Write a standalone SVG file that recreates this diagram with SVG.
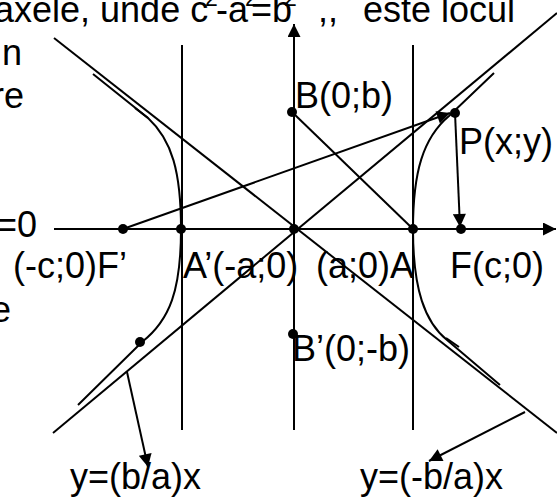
<svg xmlns="http://www.w3.org/2000/svg" width="557" height="504" viewBox="0 0 557 504">
<defs>
<style>
text{font-family:"Liberation Sans",Arial,sans-serif;font-size:36px;fill:#000}
.sup{font-size:23px}
.ln{stroke:#000;stroke-width:2;fill:none}
.dot{fill:#000}
</style>
<marker id="tri" viewBox="0 0 10 10" refX="10" refY="5" markerWidth="15" markerHeight="13" markerUnits="userSpaceOnUse" orient="auto">
<path d="M0,0 L10,5 L0,10 z" fill="#000"/>
</marker>
</defs>
<rect width="557" height="504" fill="#fff"/>
<g id="page-text">
<text x="-6" y="22">axele, unde c<tspan class="sup" x="205" y="6">2</tspan><tspan x="216" y="22">-a</tspan><tspan class="sup" x="245" y="6">2</tspan><tspan x="251" y="22">=b</tspan><tspan class="sup" x="284" y="6">2</tspan><tspan x="318" y="22">,,</tspan><tspan x="363" y="22">este locul</tspan></text>
<text x="22" y="65" text-anchor="end">n</text>
<text x="24" y="108" text-anchor="end">re</text>
<text x="37" y="237" text-anchor="end">=0</text>
<text x="11" y="322" text-anchor="end">e</text>
</g>
<g id="connectors">
<line id="x-axis" class="ln" x1="54" y1="229" x2="556" y2="229" marker-end="url(#tri)"/>
<line id="y-axis" class="ln" x1="294" y1="430" x2="294" y2="24" marker-end="url(#tri)"/>
<line id="vert-left" class="ln" x1="182" y1="45" x2="182" y2="430"/>
<line id="vert-right" class="ln" x1="413" y1="45" x2="413" y2="430"/>
<line id="asym-neg" class="ln" x1="54" y1="38" x2="557" y2="433"/>
<line id="asym-pos" class="ln" x1="53" y1="433" x2="557" y2="13"/>
<line id="BA" class="ln" x1="292" y1="112" x2="413" y2="229"/>
<line id="FpP" class="ln" x1="123" y1="229" x2="450" y2="113" marker-end="url(#tri)"/>
<line id="PF" class="ln" x1="455" y1="113" x2="460" y2="227" marker-end="url(#tri)"/>
<path id="branch-right-up" class="ln" d="M413,229 C413,172 423,138 449,116 L494,73"/>
<path id="branch-right-down" class="ln" d="M413,229 C413,290 425,322 447,340 L500,385"/>
<line class="ln" x1="446" y1="338" x2="459" y2="347"/>
<path id="branch-left-up" class="ln" d="M181,229 C181,172 172,140 148,118 L93,74"/>
<line class="ln" x1="135" y1="108" x2="148" y2="118"/>
<path id="branch-left-down" class="ln" d="M181,229 C181,290 170,320 142,342 L78,405"/>
<line id="lbl-pos" class="ln" x1="127" y1="372" x2="148" y2="467" marker-end="url(#tri)"/>
<line id="lbl-neg" class="ln" x1="525" y1="412" x2="429" y2="461" marker-end="url(#tri)"/>
</g>
<g id="Fp"><circle class="dot" cx="123" cy="229" r="5"/><text x="13" y="278">(-c;0)F’</text></g>
<g id="Ap"><circle class="dot" cx="181" cy="229" r="5"/><text x="183" y="278">A’(-a;0)</text></g>
<g id="O"><circle class="dot" cx="294" cy="229" r="5"/></g>
<g id="A"><circle class="dot" cx="413" cy="229" r="5"/><text x="316" y="278">(a;0)A</text></g>
<g id="F"><circle class="dot" cx="461" cy="229" r="5"/><text x="450" y="278">F(c;0)</text></g>
<g id="B"><circle class="dot" cx="292" cy="112" r="5"/><text x="295" y="108">B(0;b)</text></g>
<g id="Bp"><circle class="dot" cx="293" cy="334" r="5"/><text x="292" y="361">B’(0;-b)</text></g>
<g id="P"><circle class="dot" cx="455" cy="113" r="5"/><text x="459" y="154">P(x;y)</text></g>
<g id="M"><circle class="dot" cx="140" cy="342" r="5"/></g>
<g id="lbl1"><text x="70" y="489">y=(b/a)x</text></g>
<g id="lbl2"><text x="360" y="489">y=(-b/a)x</text></g>
</svg>
